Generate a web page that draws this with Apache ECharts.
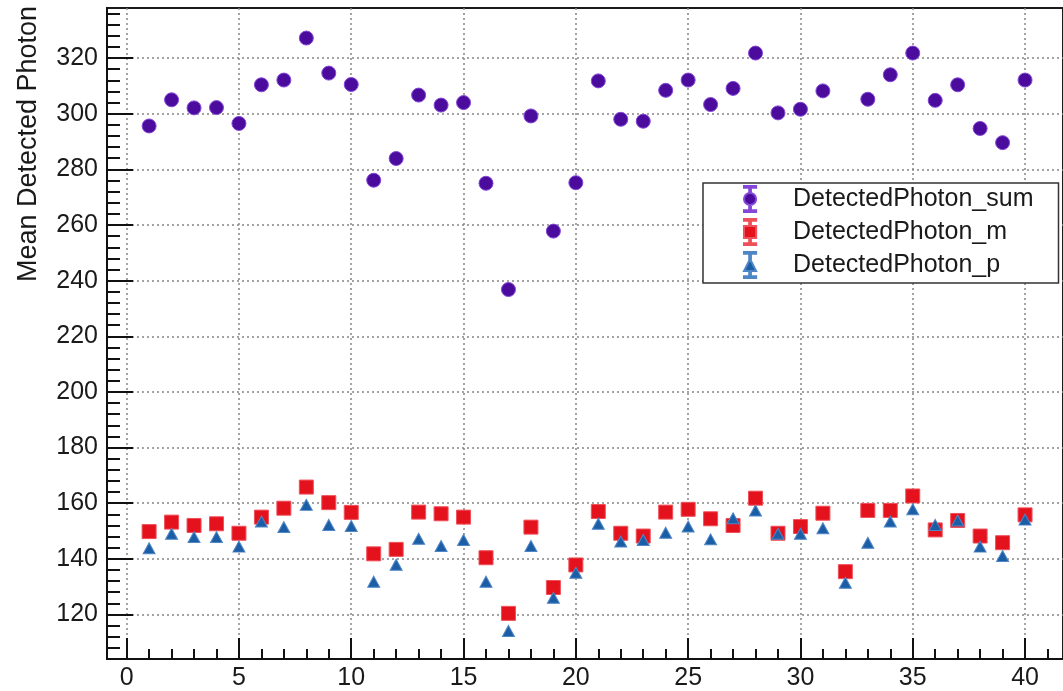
<!DOCTYPE html>
<html>
<head>
<meta charset="utf-8">
<script src="https://cdn.jsdelivr.net/npm/echarts@6/dist/echarts.min.js"></script>
<style>
  html, body { margin: 0; padding: 0; background: #fff; }
  #chart { width: 1063px; height: 691px; }
</style>
</head>
<body>
<div id="chart"></div>
<script>
var dom = document.getElementById('chart');
var chart = echarts.init(dom, null, { renderer: 'canvas' });

// run numbers on the x axis
var runs = [1, 2, 3, 4, 5, 6, 7, 8, 9, 10, 11, 12, 13, 14, 15, 16, 17, 18, 19, 20,
            21, 22, 23, 24, 25, 26, 27, 28, 29, 30, 31, 32, 33, 34, 35, 36, 37, 38, 39, 40];

// mean detected photons
var sumVals = [295.6, 305.0, 302.1, 302.2, 296.5, 310.4, 312.1, 327.2, 314.6, 310.5,
               276.1, 283.9, 306.7, 303.1, 304.0, 275.0, 236.8, 299.2, 257.8, 275.2,
               311.8, 298.0, 297.3, 308.4, 312.1, 303.3, 309.1, 321.8, 300.3, 301.6,
               308.2, 266.8, 305.2, 314.0, 321.8, 304.8, 310.4, 294.7, 289.6, 312.1];
var mVals = [149.8, 153.2, 152.0, 152.6, 149.2, 155.0, 158.2, 165.8, 160.2, 156.7,
             141.8, 143.4, 156.8, 156.2, 155.0, 140.4, 120.4, 151.4, 129.7, 137.8,
             157.0, 149.2, 148.2, 156.8, 157.8, 154.4, 152.0, 161.8, 149.2, 151.6,
             156.4, 135.4, 157.4, 157.4, 162.6, 150.4, 153.8, 148.2, 145.8, 155.8];
var pVals = [143.8, 149.0, 147.8, 147.8, 144.4, 153.4, 151.4, 159.4, 152.2, 151.8,
             131.8, 137.9, 147.2, 144.6, 146.8, 131.8, 114.1, 144.6, 126.0, 135.0,
             152.6, 146.2, 146.8, 149.4, 151.6, 147.0, 154.6, 157.4, 149.0, 149.0,
             151.0, 131.4, 145.8, 153.4, 157.8, 152.2, 153.8, 144.4, 141.0, 154.1];

// tick positions
var xMajorTicks = [0, 5, 10, 15, 20, 25, 30, 35, 40];
var xMinorTicks = [0, 1, 2, 3, 4, 5, 6, 7, 8, 9, 10, 11, 12, 13, 14, 15, 16, 17, 18, 19, 20,
                   21, 22, 23, 24, 25, 26, 27, 28, 29, 30, 31, 32, 33, 34, 35, 36, 37, 38, 39, 40, 41];
var yMajorTicks = [120, 140, 160, 180, 200, 220, 240, 260, 280, 300, 320];
var yMinorTicks = [104, 108, 112, 116, 120, 124, 128, 132, 136, 140, 144, 148, 152, 156, 160,
                   164, 168, 172, 176, 180, 184, 188, 192, 196, 200, 204, 208, 212, 216, 220,
                   224, 228, 232, 236, 240, 244, 248, 252, 256, 260, 264, 268, 272, 276, 280,
                   284, 288, 292, 296, 300, 304, 308, 312, 316, 320, 324, 328, 332, 336];

var seriesNames = ['DetectedPhoton_sum', 'DetectedPhoton_m', 'DetectedPhoton_p'];

var font = "'Liberation Sans', Arial, sans-serif";
var xMin = -0.875, xMax = 41.69;
var yMin = 104, yMax = 338;

function pairs(vals) {
    return runs.map(function (r, i) { return [r, vals[i]]; });
}

// error-bar style legend icons (caps + stem + marker)
var barPath = 'M3,0H17V2H3Z M9,2H11V8H9Z M9,22H11V28H9Z M3,28H17V30H3Z ';

var gridLine = { show: true, lineStyle: { color: '#858585', width: 1.5, type: [2, 3] } };

var option = {
    backgroundColor: '#fff',
    animation: false,
    grid: {
        left: 107, top: 8, right: -2, bottom: 32,
        show: true, borderColor: '#1a1a1a', borderWidth: 2, backgroundColor: 'transparent'
    },
    graphic: [{
        type: 'text',
        x: 29, y: 144,
        rotation: Math.PI / 2,
        style: {
            text: 'Mean Detected Photon',
            font: '27px ' + font,
            fill: '#1a1a1a',
            align: 'center',
            verticalAlign: 'middle'
        }
    }],
    legend: {
        orient: 'vertical',
        left: 703, top: 183,
        padding: [2, 25, 4, 40],
        itemGap: 5,
        itemWidth: 76,
        itemHeight: 26,
        symbolKeepAspect: true,
        backgroundColor: '#fff',
        borderColor: '#333',
        borderWidth: 1.5,
        z: 10,
        textStyle: { fontFamily: font, fontSize: 25, color: '#1a1a1a', lineHeight: 26 },
        data: [
            { name: seriesNames[0], icon: 'path://' + barPath + 'M3,15A7,7,0,1,1,17,15A7,7,0,1,1,3,15Z' },
            { name: seriesNames[1], icon: 'path://' + barPath + 'M3,8H17V22H3Z' },
            { name: seriesNames[2], icon: 'path://' + barPath + 'M10,8L17,22H3Z' }
        ]
    },
    xAxis: [{
        type: 'value', min: xMin, max: xMax, position: 'bottom',
        axisLine: { show: true, onZero: false, lineStyle: { color: '#111', width: 2 } },
        axisTick: { show: true, inside: true, length: 21, customValues: xMajorTicks, lineStyle: { color: '#111', width: 2 } },
        axisLabel: { customValues: xMajorTicks, margin: 7, fontFamily: font, fontSize: 25, color: '#1a1a1a' },
        splitLine: gridLine
    }, {
        type: 'value', min: xMin, max: xMax, position: 'bottom',
        axisLine: { show: false, onZero: false },
        axisTick: { show: true, inside: true, length: 10, customValues: xMinorTicks, lineStyle: { color: '#111', width: 2 } },
        axisLabel: { show: false },
        splitLine: { show: false }
    }],
    yAxis: [{
        type: 'value', min: yMin, max: yMax, position: 'left',
        axisLine: { show: true, onZero: false, lineStyle: { color: '#111', width: 2 } },
        axisTick: { show: true, inside: true, length: 26, customValues: yMajorTicks, lineStyle: { color: '#111', width: 2 } },
        axisLabel: { customValues: yMajorTicks, margin: 9, fontFamily: font, fontSize: 25, color: '#1a1a1a' },
        splitLine: gridLine
    }, {
        type: 'value', min: yMin, max: yMax, position: 'left', offset: 0,
        axisLine: { show: false, onZero: false },
        axisTick: { show: true, inside: true, length: 13, customValues: yMinorTicks, lineStyle: { color: '#111', width: 2 } },
        axisLabel: { show: false },
        splitLine: { show: false }
    }],
    series: [{
        name: seriesNames[0], type: 'scatter', symbol: 'circle', symbolSize: 14,
        itemStyle: { color: '#4b0c9e', borderColor: '#8447d8', borderWidth: 1, opacity: 1 },
        data: pairs(sumVals)
    }, {
        name: seriesNames[1], type: 'scatter', symbol: 'rect', symbolSize: 14,
        itemStyle: { color: '#e3121c', borderColor: '#f0505a', borderWidth: 1, opacity: 1 },
        data: pairs(mVals)
    }, {
        name: seriesNames[2], type: 'scatter', symbol: 'triangle', symbolSize: [12, 11],
        itemStyle: { color: '#1c5ea6', borderColor: '#4f86c6', borderWidth: 1, opacity: 1 },
        data: pairs(pVals)
    }]
};

chart.setOption(option);
window.addEventListener('resize', function () {
    chart.resize();
});
</script>
</body>
</html>
